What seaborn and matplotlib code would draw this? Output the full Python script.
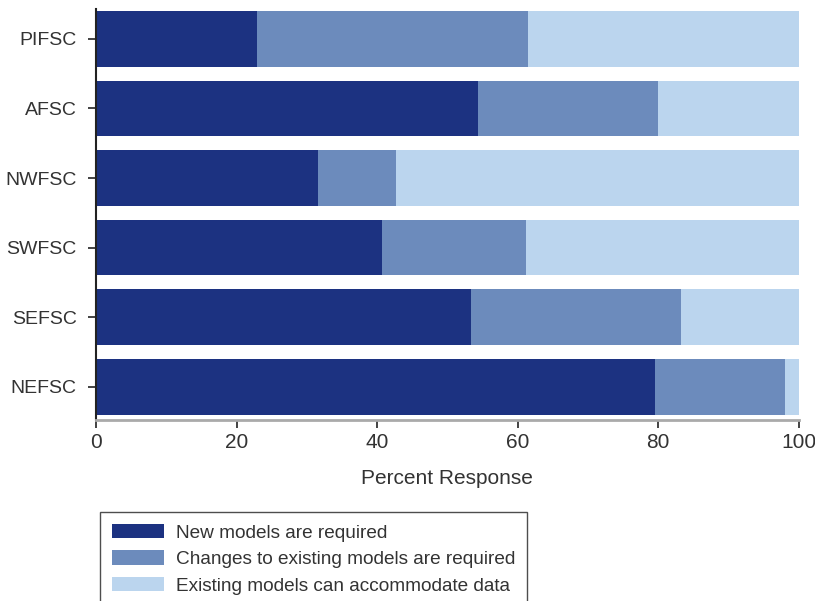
import numpy as np
import pandas as pd
import matplotlib
matplotlib.use("Agg")
import matplotlib.pyplot as plt
import seaborn as sns
from matplotlib.patches import Patch

# Survey responses by science center (percent)
centers = ["PIFSC", "AFSC", "NWFSC", "SWFSC", "SEFSC", "NEFSC"]
new_models = [22.9, 54.3, 31.6, 40.7, 53.3, 79.5]
changes_models = [38.6, 25.7, 11.1, 20.5, 30.0, 18.6]
existing_models = [38.5, 20.0, 57.3, 38.8, 16.7, 1.9]

series_labels = [
    "New models are required",
    "Changes to existing models are required",
    "Existing models can accommodate data",
]
colors = ["#1c3281", "#6c8bbc", "#bbd5ee"]

df = pd.DataFrame({
    "center": centers,
    "new": new_models,
    "changes": changes_models,
    "existing": existing_models,
})
# cumulative ends for stacking
df["cum_new"] = df["new"]
df["cum_changes"] = df["new"] + df["changes"]
df["cum_all"] = df["cum_changes"] + df["existing"]

sns.set_theme(style="white")
plt.rcParams["font.family"] = ["Liberation Sans", "DejaVu Sans"]

fig = plt.figure(figsize=(8.15, 6.01), dpi=100)
ax = fig.add_axes([0.118, 0.301, 0.862, 0.684])

for col, color in zip(["cum_all", "cum_changes", "cum_new"], colors[::-1]):
    sns.barplot(data=df, x=col, y="center", orient="h", color=color,
                width=0.8, saturation=1, ax=ax, linewidth=0)

ax.set_xlim(0, 100)
ax.set_ylim(5.48, -0.43)
ax.set_xticks([0, 20, 40, 60, 80, 100])
ax.set_xlabel("Percent Response", fontsize=15, color="#333333", labelpad=12)
ax.set_ylabel("")

for s in ["top", "right"]:
    ax.spines[s].set_visible(False)
ax.spines["left"].set_color("#222222")
ax.spines["left"].set_linewidth(1.5)
ax.spines["bottom"].set_color("#aaaaaa")
ax.spines["bottom"].set_linewidth(2)

ax.tick_params(axis="both", which="both", length=6, width=1.2, color="#222222",
               labelsize=15, labelcolor="#333333", direction="out",
               bottom=True, left=True)
ax.tick_params(axis="y", labelsize=14, pad=8)

handles = [Patch(facecolor=c, edgecolor="none") for c in colors]
leg = fig.legend(handles, series_labels, loc="upper left",
                 bbox_to_anchor=(0.1227, 0.148), bbox_transform=fig.transFigure,
                 frameon=True, fancybox=False, fontsize=13.7,
                 handlelength=2.75, handleheight=0.8, labelspacing=0.45,
                 handletextpad=0.6, borderpad=0.62, borderaxespad=0)
leg.get_frame().set_edgecolor("#222222")
leg.get_frame().set_linewidth(1.0)
for t in leg.get_texts():
    t.set_color("#333333")

fig.savefig("out.png", dpi=100)
